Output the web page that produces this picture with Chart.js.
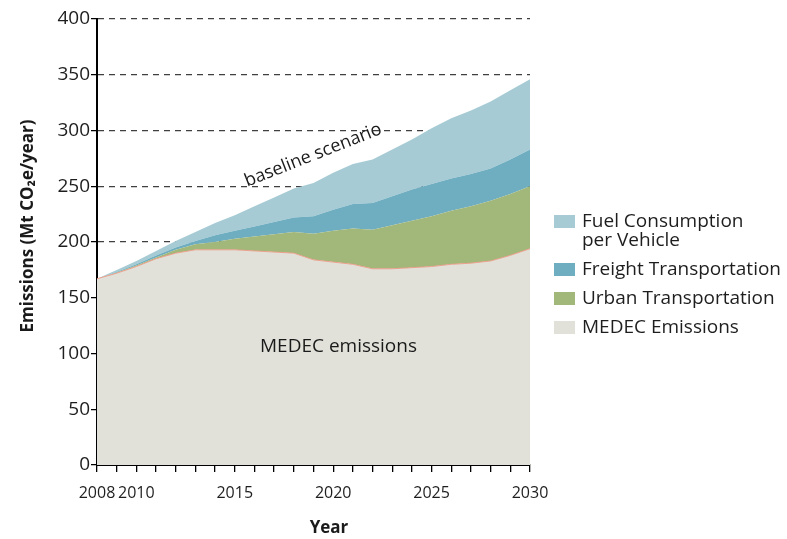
<!DOCTYPE html>
<html>
<head>
<meta charset="utf-8">
<script src="https://cdn.jsdelivr.net/npm/chart.js@4.4.0/dist/chart.umd.min.js"></script>
<style>
  body { margin: 0; background: #fff; }
  #wrap { position: relative; width: 787px; height: 539px; }
  #leyenda { position: absolute; left: 554px; top: 211px; font-family: "Open Sans", sans-serif; font-size: 19px; line-height: 19px; color: #1e1e1e; }
  .item { display: flex; align-items: flex-start; margin-bottom: 10px; }
  .caja { width: 21px; height: 13px; margin-top: 4px; margin-right: 7px; flex: none; }
  .txt { white-space: pre-line; }
</style>
</head>
<body>
<div id="wrap">
  <canvas id="grafica" width="787" height="539"></canvas>
  <div id="leyenda"></div>
</div>
<script>
// datos (Mt CO2e/año, valores acumulados de cada capa)
const anios = [2008, 2009, 2010, 2011, 2012, 2013, 2014, 2015, 2016, 2017, 2018, 2019,
               2020, 2021, 2022, 2023, 2024, 2025, 2026, 2027, 2028, 2029, 2030];
const medec = [167, 172, 178, 185, 190, 193, 193, 193, 192, 191, 190, 184,
               182, 180, 176, 176, 177, 178, 180, 181, 183, 188, 194];
const urbano = [167, 172.5, 179, 186, 193, 198, 200, 203, 205, 207, 209, 207.5,
                210, 212, 211, 215, 219, 223, 228, 232, 237, 243, 250];
const carga = [167, 173, 180, 188, 195, 201, 206, 210, 214, 218, 222, 223,
               229, 234, 235, 241, 247, 252, 257, 261, 266, 274, 283];
const combustible = [167, 175, 183, 192, 201, 209, 217, 224, 232, 240, 248, 253,
                     262, 270, 274, 283, 292, 302, 311, 318, 326, 336, 346];
const etiquetasX = [2008, 2010, 2015, 2020, 2025, 2030];
const nombres = ["Fuel Consumption\nper Vehicle", "Freight Transportation", "Urban Transportation", "MEDEC Emissions"];
const colores = ["#a7cbd4", "#6faec0", "#a2b77a", "#e1e1da"];

const puntos = arr => arr.map((v, i) => ({ x: anios[i], y: v }));

const notas = {
    id: "notas",
    afterDraw(chart) {
        const c = chart.ctx;
        const x = chart.scales.x;
        const y = chart.scales.y;
        c.save();
        c.fillStyle = "#1a1a1a";
        c.font = "18px 'Open Sans'";
        c.textAlign = "center";
        c.textBaseline = "alphabetic";
        c.save();
        c.translate(x.getPixelForValue(2019.08), y.getPixelForValue(273.5));
        c.rotate(-21.5 * Math.PI / 180);
        c.fillText("baseline scenario", 0, 0);
        c.restore();
        c.font = "19px 'Open Sans'";
        c.fillText("MEDEC emissions", x.getPixelForValue(2020.27), y.getPixelForValue(101.6));
        // titulos de ejes
        c.font = "bold 17px 'Open Sans'";
        c.fillText("Year", 329, 533);
        c.save();
        c.translate(33, 226);
        c.rotate(-Math.PI / 2);
        c.fillText("Emissions (Mt CO\u2082e/year)", 0, 0);
        c.restore();
        c.restore();
    }
};

const ctx = document.getElementById("grafica").getContext("2d");
const grafica = new Chart(ctx, {
    type: "line",
    data: {
        datasets: [
            { label: nombres[3], data: puntos(medec), fill: "origin", backgroundColor: colores[3], borderColor: "#eca08c", borderWidth: 1 },
            { label: nombres[2], data: puntos(urbano), fill: "-1", backgroundColor: colores[2], borderWidth: 0 },
            { label: nombres[1], data: puntos(carga), fill: "-1", backgroundColor: colores[1], borderWidth: 0 },
            { label: nombres[0], data: puntos(combustible), fill: "-1", backgroundColor: colores[0], borderWidth: 0 }
        ]
    },
    options: {
        responsive: false,
        animation: false,
        devicePixelRatio: 1,
        elements: { point: { radius: 0 }, line: { tension: 0 } },
        layout: { padding: { top: 19, right: 257, left: 0, bottom: 0 } },
        plugins: { legend: { display: false }, tooltip: { enabled: false } },
        scales: {
            x: {
                type: "linear",
                min: 2008,
                max: 2030,
                afterFit(s) { s.height = 74; },
                ticks: {
                    stepSize: 1,
                    autoSkip: false,
                    maxRotation: 0,
                    padding: 12,
                    color: "#1e1e1e",
                    font: { family: "'Open Sans'", size: 16 },
                    callback: v => etiquetasX.includes(v) ? String(v) : ""
                },
                grid: { drawOnChartArea: false, color: "#000", lineWidth: 1.3, tickLength: 7 },
                border: { display: true, color: "#000", width: 2 }
            },
            y: {
                min: 0,
                max: 400,
                z: 1,
                afterFit(s) { s.width = 97; },
                ticks: {
                    stepSize: 50,
                    padding: 1,
                    color: "#1e1e1e",
                    font: { family: "'Open Sans'", size: 19 }
                },
                grid: {
                    color: c => (c.tick && c.tick.value >= 200) ? "rgba(0,0,0,0.75)" : "rgba(0,0,0,0)",
                    tickColor: "#000",
                    lineWidth: 1.3,
                    tickBorderDash: [1, 0],
                    tickLength: 6
                },
                border: { display: true, color: "#000", width: 2, dash: [6, 5] }
            }
        }
    },
    plugins: [notas]
});

// leyenda en html
const leyenda = document.getElementById("leyenda");
nombres.forEach((n, i) => {
    const item = document.createElement("div");
    item.className = "item";
    item.innerHTML = '<span class="caja" style="background:' + colores[i] + '"></span><span class="txt"></span>';
    item.querySelector(".txt").textContent = n;
    leyenda.appendChild(item);
});
</script>
</body>
</html>
